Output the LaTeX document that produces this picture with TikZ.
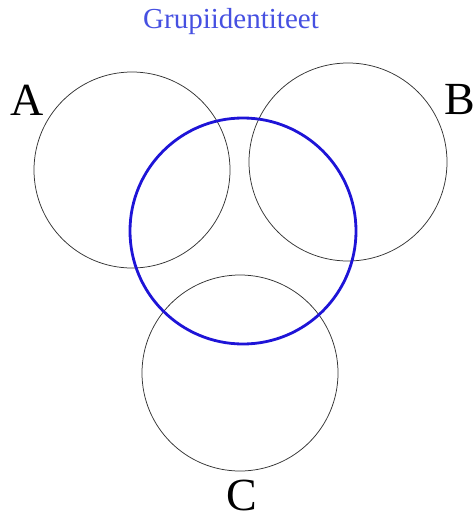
\documentclass[tikz,border=0pt]{standalone}
\usepackage{fontspec}
\setmainfont{Liberation Serif}
\usepackage{xcolor}
\definecolor{grpblue}{RGB}{30,20,215}
\definecolor{lblblue}{RGB}{70,80,225}

\begin{document}
\begin{tikzpicture}[
  x=1pt, y=-1pt,
  setcirc/.style  = {draw=black!80, line width=0.75pt},
  grpcirc/.style  = {draw=grpblue, line width=2.8pt},
  setlbl/.style   = {font=\fontsize{46}{46}\selectfont, inner sep=0pt},
  grplbl/.style   = {font=\fontsize{29}{29}\selectfont, lblblue, inner sep=0pt},
]
\useasboundingbox (0,0) rectangle (475,519);

%% ── Set circles ───────────────────────────────────────────────────
\node[setcirc, circle, minimum size=196pt] (setA) at (132,170) {};
\node[setcirc, circle, minimum size=198pt] (setB) at (348,162) {};
\node[setcirc, circle, minimum size=196pt] (setC) at (240,373) {};

%% ── Group identity ────────────────────────────────────────────────
\node[grpcirc, circle, minimum size=226pt] (grp) at (243,231) {};
\node[grplbl] (grpname) at (231,22) {Grupiidentiteet};

%% ── Labels ────────────────────────────────────────────────────────
\node[setlbl] (lblA) at (27,100) {A};
\node[setlbl] (lblB) at (460,100) {B};
\node[setlbl] (lblC) at (242,495) {C};

\end{tikzpicture}
\end{document}
